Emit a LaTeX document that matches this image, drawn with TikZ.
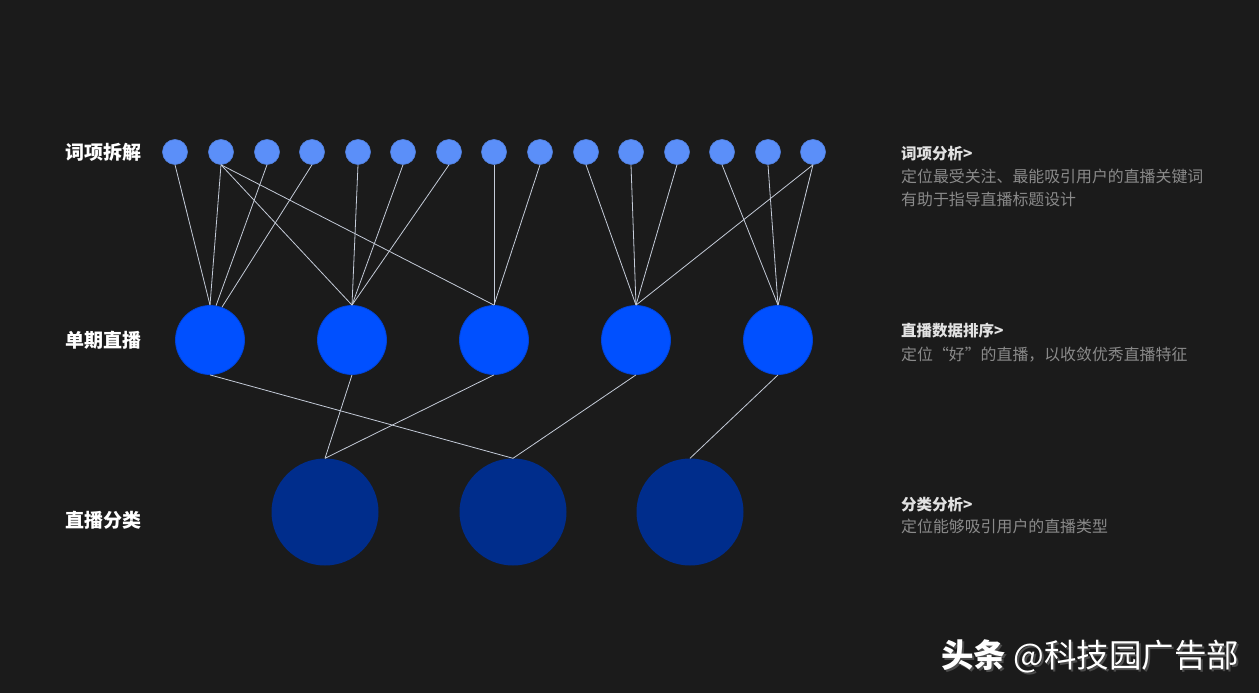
\documentclass[tikz,border=0pt]{standalone}
\usepackage{fontspec}
\setmainfont{Noto Sans CJK SC}
\usepackage{tikz}
\usetikzlibrary{shapes,arrows.meta,positioning,calc}
\usepackage{xcolor}
\definecolor{bgdark}{HTML}{1B1B1B}
\definecolor{wordblue}{HTML}{5B8FF9}
\definecolor{liveblue}{HTML}{0050FF}
\definecolor{classblue}{HTML}{002D8C}
\definecolor{linkgray}{HTML}{C4CBD8}
\definecolor{headgray}{HTML}{E2E2E2}
\definecolor{descgray}{HTML}{8A8A8A}

\begin{document}
\begin{tikzpicture}[x=1pt, y=-1pt]
    \tikzstyle{word node} = [circle, fill=wordblue, draw=wordblue!90!black, line width=0.6pt, inner sep=0pt, minimum size=25pt]
    \tikzstyle{live node} = [circle, fill=liveblue, draw=liveblue!85!black, line width=0.8pt, inner sep=0pt, minimum size=69pt]
    \tikzstyle{class node} = [circle, fill=classblue, inner sep=0pt, minimum size=107pt]
    \tikzstyle{link} = [draw=linkgray, line width=0.8pt]
    \tikzstyle{row label} = [anchor=base west, inner sep=0pt, text=white, font=\fontsize{19}{22}\selectfont\bfseries]
    \tikzstyle{head text} = [anchor=base west, inner sep=0pt, text=headgray, font=\fontsize{15.5}{18}\selectfont\bfseries]
    \tikzstyle{desc text} = [anchor=base west, inner sep=0pt, text=descgray, font=\fontsize{15.9}{18}\selectfont]

    % background and page size
    \fill[bgdark] (0,0) rectangle (1259,693);

    % row labels
    \node[row label] (rowword) at (65,159) {词项拆解};
    \node[row label] (rowlive) at (65,347) {单期直播};
    \node[row label] (rowclass) at (65,527) {直播分类};

    % word items
    \node[word node] (w1) at (175,152) {};
    \node[word node] (w2) at (221,152) {};
    \node[word node] (w3) at (267,152) {};
    \node[word node] (w4) at (312,152) {};
    \node[word node] (w5) at (358,152) {};
    \node[word node] (w6) at (403,152) {};
    \node[word node] (w7) at (449,152) {};
    \node[word node] (w8) at (494,152) {};
    \node[word node] (w9) at (540,152) {};
    \node[word node] (w10) at (586,152) {};
    \node[word node] (w11) at (631,152) {};
    \node[word node] (w12) at (677,152) {};
    \node[word node] (w13) at (722,152) {};
    \node[word node] (w14) at (768,152) {};
    \node[word node] (w15) at (813,152) {};

    % single live streams
    \node[live node] (live1) at (210,340) {};
    \node[live node] (live2) at (352,340) {};
    \node[live node] (live3) at (494,340) {};
    \node[live node] (live4) at (636,340) {};
    \node[live node] (live5) at (778,340) {};

    % live categories
    \node[class node] (class1) at (325,512) {};
    \node[class node] (class2) at (513,512) {};
    \node[class node] (class3) at (690,512) {};

    % words -> live streams
    \draw[link] (w1.south) -- (live1.north);
    \draw[link] (w2.south) -- (live1.north);
    \draw[link] (w3.south) -- (live1.80);
    \draw[link] (w4.south) -- (live1.70);
    \draw[link] (w2.south) -- (live2.north);
    \draw[link] (w5.south) -- (live2.north);
    \draw[link] (w6.south) -- (live2.north);
    \draw[link] (w7.south) -- (live2.north);
    \draw[link] (w2.south) -- (live3.north);
    \draw[link] (w8.south) -- (live3.north);
    \draw[link] (w9.south) -- (live3.north);
    \draw[link] (w10.south) -- (live4.north);
    \draw[link] (w11.south) -- (live4.north);
    \draw[link] (w12.south) -- (live4.north);
    \draw[link] (w15.south) -- (live4.north);
    \draw[link] (w13.south) -- (live5.north);
    \draw[link] (w14.south) -- (live5.north);
    \draw[link] (w15.south) -- (live5.north);

    % live streams -> categories
    \draw[link] (live1.south) -- (class2.north);
    \draw[link] (live2.south) -- (class1.north);
    \draw[link] (live3.south) -- (class1.north);
    \draw[link] (live4.south) -- (class2.north);
    \draw[link] (live5.south) -- (class3.north);

    % notes on the right
    \node[head text] (headword) at (901,159) {词项分析>};
    \node[desc text] (descword) at (901,182) {定位最受关注、最能吸引用户的直播关键词};
    \node[desc text] (descwordb) at (901,205) {有助于指导直播标题设计};
    \node[head text] (headlive) at (901,336) {直播数据排序>};
    \node[desc text] (desclive) at (901,360) {定位“好”的直播，以收敛优秀直播特征};
    \node[head text] (headclass) at (901,510) {分类分析>};
    \node[desc text] (descclass) at (901,532) {定位能够吸引用户的直播类型};

    % watermark
    \node[anchor=base west, inner sep=0pt, text=black!70, font=\fontsize{32.5}{36}\selectfont] (markshade) at (943,669) {\textbf{头条} @科技园广告部};
    \node[anchor=base west, inner sep=0pt, text=white, font=\fontsize{32.5}{36}\selectfont] (mark) at (941,667) {\textbf{头条} @科技园广告部};
\end{tikzpicture}
\end{document}
